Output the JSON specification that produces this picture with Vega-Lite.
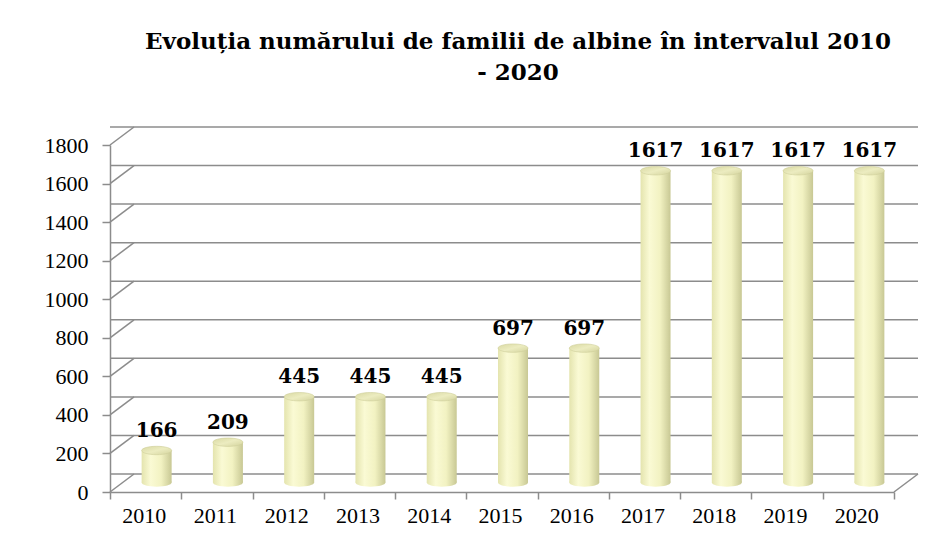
{
  "$schema": "https://vega.github.io/schema/vega-lite/v6.json",
  "width": 784,
  "height": 347,
  "autosize": {"type": "none"},
  "padding": {"left": 110, "top": 145, "right": 53, "bottom": 52},
  "background": "white",
  "config": {
    "view": {"stroke": null},
    "font": "Liberation Serif",
    "axisY": {"labelOverlap": false}
  },
  "title": {
    "text": ["Evoluția numărului de familii de albine în intervalul 2010", "- 2020"],
    "font": "DejaVu Serif",
    "fontSize": 23,
    "fontWeight": "bold",
    "color": "#000000",
    "anchor": "middle",
    "dx": 16,
    "offset": 41,
    "lineHeight": 31
  },
  "datasets": {
    "bees": [
      {"an": "2010", "familii": 166},
      {"an": "2011", "familii": 209},
      {"an": "2012", "familii": 445},
      {"an": "2013", "familii": 445},
      {"an": "2014", "familii": 445},
      {"an": "2015", "familii": 697},
      {"an": "2016", "familii": 697},
      {"an": "2017", "familii": 1617},
      {"an": "2018", "familii": 1617},
      {"an": "2019", "familii": 1617},
      {"an": "2020", "familii": 1617}
    ],
    "grid": [
      {"familii": 0}, {"familii": 200}, {"familii": 400}, {"familii": 600}, {"familii": 800},
      {"familii": 1000}, {"familii": 1200}, {"familii": 1400}, {"familii": 1600}, {"familii": 1800}
    ],
    "floor": [{"familii": 0}]
  },
  "encoding": {
    "y": {
      "field": "familii", "type": "quantitative",
      "scale": {"domain": [0, 1800], "nice": false},
      "axis": {
        "title": null,
        "values": [0, 200, 400, 600, 800, 1000, 1200, 1400, 1600, 1800],
        "tickCount": 10,
        "format": "d",
        "labelOverlap": false,
        "labelFont": "Liberation Serif",
        "labelFontSize": 22,
        "labelColor": "#000000",
        "labelPadding": 14,
        "domainColor": "#8c8c8c",
        "domainWidth": 1.5,
        "tickColor": "#8c8c8c",
        "tickWidth": 1.5,
        "tickSize": 8,
        "grid": false
      }
    }
  },
  "layer": [
    {
      "data": {"name": "grid"},
      "mark": {"type": "rule", "stroke": "#8c8c8c", "strokeWidth": 1.5, "xOffset": 24, "yOffset": -18},
      "encoding": {}
    },
    {
      "data": {"name": "grid"},
      "mark": {"type": "rule", "stroke": "#8c8c8c", "strokeWidth": 1.5, "y2Offset": -18},
      "encoding": {
        "x": {"value": 0},
        "x2": {"value": 24},
        "y2": {"field": "familii"}
      }
    },
    {
      "data": {"name": "floor"},
      "mark": {"type": "rule", "stroke": "#8c8c8c", "strokeWidth": 1.5, "y2Offset": -18},
      "encoding": {
        "x": {"value": {"expr": "width"}},
        "x2": {"value": {"expr": "width + 24"}},
        "y2": {"field": "familii"}
      }
    },
    {
      "data": {"name": "bees"},
      "mark": {
        "type": "bar",
        "width": 30,
        "xOffset": 11,
        "yOffset": -9.5,
        "fill": {
          "gradient": "linear", "x1": 0, "y1": 0, "x2": 1, "y2": 0,
          "stops": [
            {"offset": 0, "color": "#e4e4ae"},
            {"offset": 0.3, "color": "#fafad4"},
            {"offset": 0.65, "color": "#f2f2c2"},
            {"offset": 1, "color": "#c8c894"}
          ]
        }
      },
      "encoding": {
        "x": {
          "field": "an", "type": "ordinal",
          "scale": {"paddingInner": 0, "paddingOuter": 0},
          "axis": {
            "title": null,
            "labelAngle": 0,
            "labelFont": "Liberation Serif",
            "labelFontSize": 22,
            "labelColor": "#000000",
            "labelPadding": 6,
            "labelOffset": -2,
            "domainColor": "#8c8c8c",
            "domainWidth": 1.5,
            "tickColor": "#8c8c8c",
            "tickWidth": 1.5,
            "tickSize": 7,
            "tickBand": "extent",
            "grid": false
          }
        }
      }
    },
    {
      "data": {"name": "bees"},
      "mark": {
        "type": "point",
        "filled": true,
        "opacity": 1,
        "size": 900,
        "xOffset": 11,
        "yOffset": -9.5,
        "shape": "M -1 0 C -1 -0.1546 -0.5523 -0.28 0 -0.28 C 0.5523 -0.28 1 -0.1546 1 0 C 1 0.1546 0.5523 0.28 0 0.28 C -0.5523 0.28 -1 0.1546 -1 0 Z",
        "fill": {
          "gradient": "linear", "x1": 0, "y1": 0, "x2": 1, "y2": 0,
          "stops": [
            {"offset": 0, "color": "#e4e4ae"},
            {"offset": 0.3, "color": "#fafad4"},
            {"offset": 0.65, "color": "#f2f2c2"},
            {"offset": 1, "color": "#c8c894"}
          ]
        }
      },
      "encoding": {
        "x": {"field": "an", "type": "ordinal"},
        "y": {"datum": 0, "type": "quantitative"}
      }
    },
    {
      "data": {"name": "bees"},
      "mark": {
        "type": "point",
        "filled": true,
        "opacity": 1,
        "size": 900,
        "xOffset": 11,
        "yOffset": -9.5,
        "shape": "M -1 0 C -1 -0.1546 -0.5523 -0.28 0 -0.28 C 0.5523 -0.28 1 -0.1546 1 0 C 1 0.1546 0.5523 0.28 0 0.28 C -0.5523 0.28 -1 0.1546 -1 0 Z",
        "stroke": "#cfcf9a",
        "strokeWidth": 0.6,
        "fill": {
          "gradient": "linear", "x1": 0, "y1": 0, "x2": 1, "y2": 1,
          "stops": [
            {"offset": 0, "color": "#d9d9a3"},
            {"offset": 0.5, "color": "#ececc0"},
            {"offset": 1, "color": "#d4d49e"}
          ]
        }
      },
      "encoding": {
        "x": {"field": "an", "type": "ordinal"}
      }
    },
    {
      "data": {"name": "bees"},
      "mark": {
        "type": "text",
        "font": "DejaVu Serif",
        "fontSize": 20,
        "fontWeight": "bold",
        "color": "#000000",
        "baseline": "alphabetic",
        "align": "center",
        "xOffset": 11,
        "yOffset": -23
      },
      "encoding": {
        "x": {"field": "an", "type": "ordinal"},
        "text": {"field": "familii", "type": "quantitative"}
      }
    }
  ]
}
